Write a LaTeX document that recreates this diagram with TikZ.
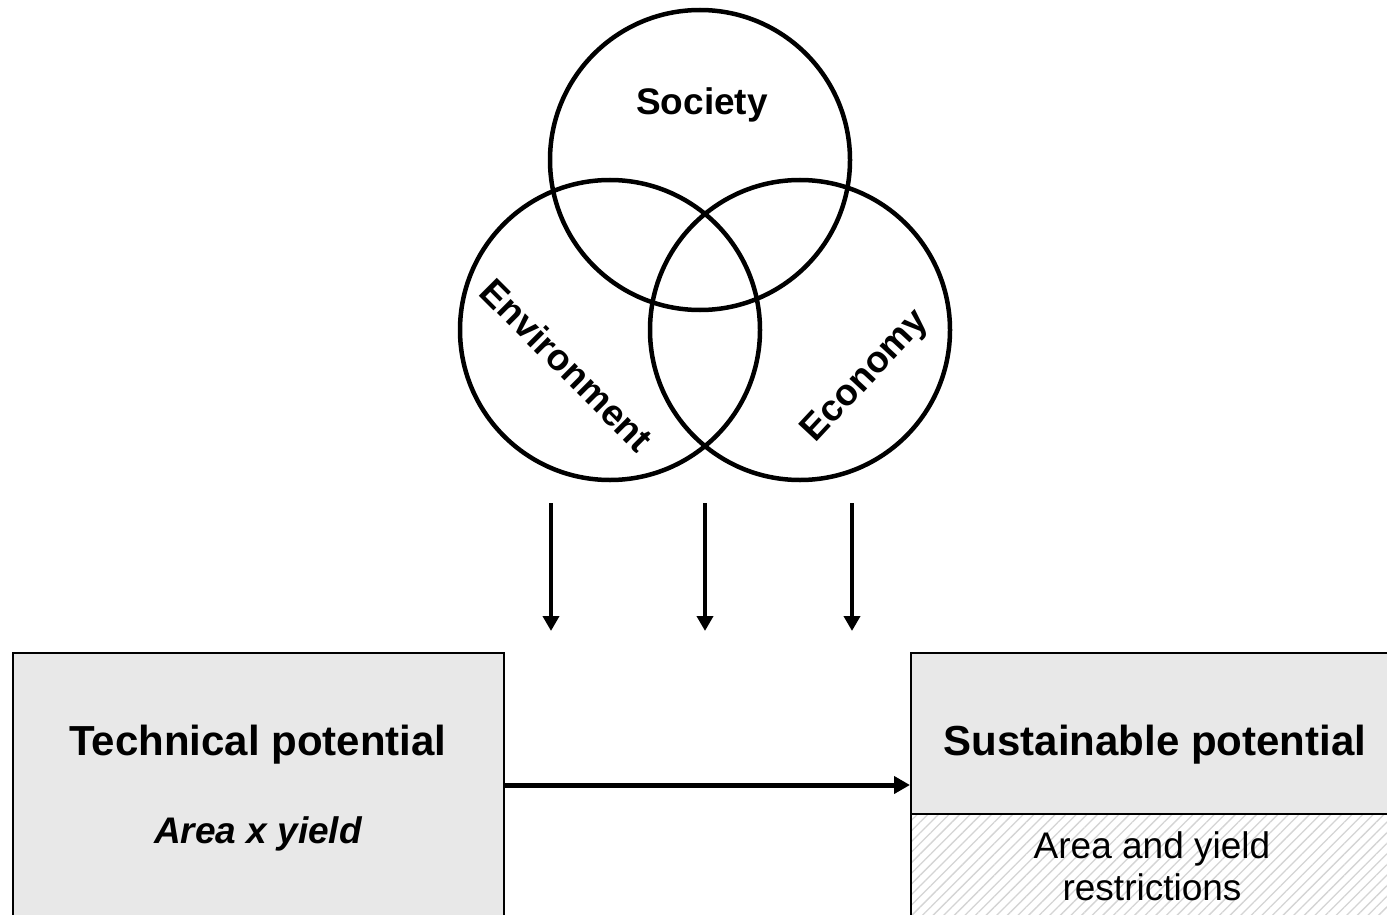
\documentclass[tikz,border=0pt]{standalone}
\usepackage{fontspec}
\setmainfont{Liberation Sans}
\usetikzlibrary{arrows.meta,patterns.meta}
\definecolor{boxgray}{HTML}{E8E8E8}
\definecolor{hatchgray}{HTML}{D4D4D4}
\tikzset{
  ring/.style={circle, draw=black, line width=4.5pt, minimum size=300pt, inner sep=0pt},
  ringlabel/.style={font=\fontsize{37}{40}\selectfont\bfseries, inner sep=0pt},
  panel/.style={rectangle, draw=black, line width=2pt, fill=boxgray, inner sep=0pt, anchor=north west},
  hatched/.style={rectangle, draw=black, line width=2pt, inner sep=0pt, anchor=north west,
    pattern={Lines[angle=45, distance=7.5pt, line width=1.3pt]}, pattern color=hatchgray},
  title/.style={font=\fontsize{42}{46}\selectfont\bfseries, inner sep=0pt, anchor=base},
  sub/.style={font=\fontsize{37}{42}\selectfont, inner sep=0pt, align=center},
  down/.style={line width=4.5pt, -{Triangle[width=16pt,length=15pt]}},
  flow/.style={line width=5pt, -{Triangle[width=17pt,length=16pt]}}
}
\begin{document}
\begin{tikzpicture}[x=1pt,y=-1pt]
\useasboundingbox (0,0) rectangle (1387,915);
\clip (0,0) rectangle (1387,915);
\fill[white] (0,0) rectangle (1387,915);

% three overlapping pillars of sustainability
\node[ring] (soc) at (700,160) {};
\node[ring] (env) at (610,330) {};
\node[ring] (eco) at (800,330) {};
\node[ringlabel] (soclabel) at (702,105) {Society};
\node[ringlabel, rotate=-45] (envlabel) at (567,365) {Environment};
\node[ringlabel, rotate=47] (ecolabel) at (866,377) {Economy};

% downward influence arrows
\coordinate (a1s) at (551,503); \coordinate (a1e) at (551,631);
\coordinate (a2s) at (705,503); \coordinate (a2e) at (705,631);
\coordinate (a3s) at (852,503); \coordinate (a3e) at (852,631);
\draw[down] (a1s) -- (a1e);
\draw[down] (a2s) -- (a2e);
\draw[down] (a3s) -- (a3e);

% technical potential panel
\node[panel, minimum width=491pt, minimum height=290pt] (tech) at (12,652) {};
\node[title] (techtitle) at (258,755) {Technical potential};
\node[font=\fontsize{37}{40}\selectfont\bfseries\itshape, inner sep=0pt, anchor=base] (techsub) at (258,843) {Area x yield};

% sustainable potential panel
\node[panel, minimum width=500pt, minimum height=161pt] (sust) at (910,652) {};
\node[hatched, minimum width=500pt, minimum height=130pt] (restr) at (910,813) {};
\node[title] (susttitle) at (1155,755) {Sustainable potential};
\node[sub] (restrtext) at (1152,866) {Area and yield\\restrictions};

% main flow
\coordinate (row) at (0,785);
\draw[flow] (tech.east |- row) -- (sust.west |- row);
\end{tikzpicture}
\end{document}
